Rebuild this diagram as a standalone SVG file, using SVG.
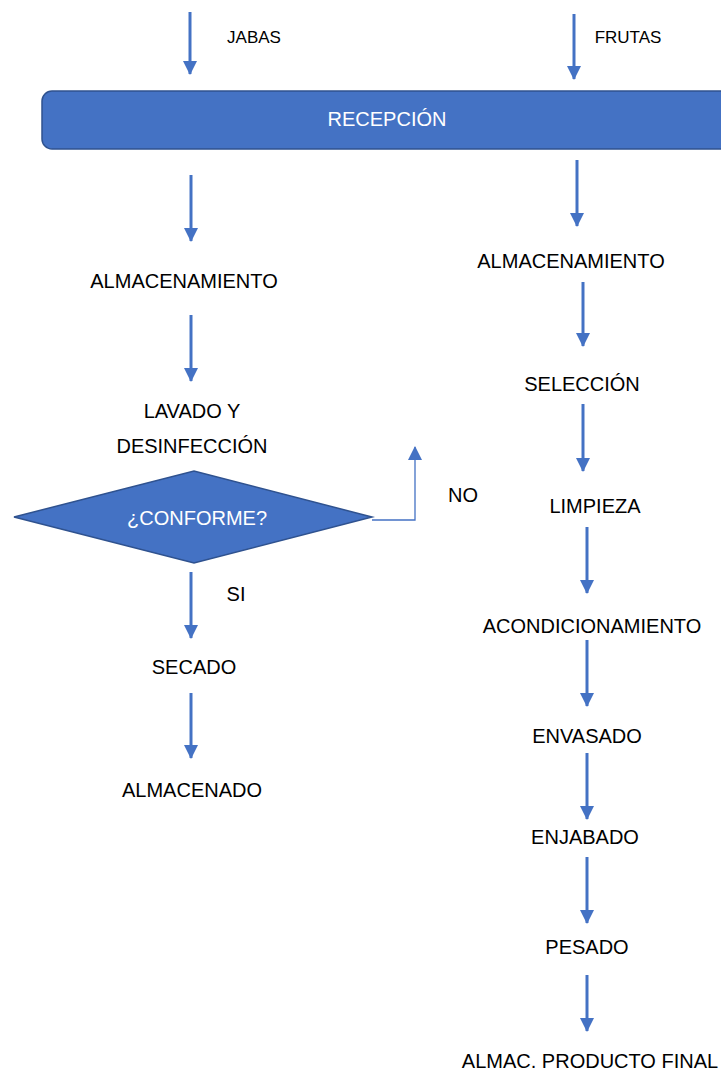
<svg xmlns="http://www.w3.org/2000/svg" width="721" height="1074" viewBox="0 0 721 1074">
<style>
.t{font-family:"Liberation Sans",Arial,sans-serif;font-size:20px;fill:#000;text-anchor:middle;dominant-baseline:central}
.s{font-size:17px}
.w{fill:#fff}
.a{stroke:#4472C4;stroke-width:3;fill:none;marker-end:url(#ah)}
.shape{fill:#4472C4;stroke:#2F528F;stroke-width:1.5}
</style>
<defs>
<marker id="ah" markerUnits="userSpaceOnUse" markerWidth="14" markerHeight="14" refX="13" refY="7" orient="auto" viewBox="0 0 14 14">
<path d="M0,0 L14,7 L0,14 Z" fill="#4472C4"/>
</marker>
</defs>
<g id="connectors">
<line class="a" x1="190" y1="12" x2="190" y2="74"/>
<line class="a" x1="574" y1="14" x2="574" y2="79"/>
<line class="a" x1="191" y1="175" x2="191" y2="241"/>
<line class="a" x1="191" y1="315" x2="191" y2="381"/>
<polyline points="372,520 415,520 415,447" fill="none" stroke="#4472C4" stroke-width="1.3" marker-end="url(#ah)"/>
<line class="a" x1="191" y1="572" x2="191" y2="638"/>
<line class="a" x1="191" y1="693" x2="191" y2="758"/>
<line class="a" x1="577" y1="160" x2="577" y2="226"/>
<line class="a" x1="583" y1="282" x2="583" y2="346"/>
<line class="a" x1="583" y1="404" x2="583" y2="471"/>
<line class="a" x1="587" y1="527" x2="587" y2="593"/>
<line class="a" x1="587" y1="640" x2="587" y2="706"/>
<line class="a" x1="587" y1="753" x2="587" y2="819"/>
<line class="a" x1="587" y1="857" x2="587" y2="923"/>
<line class="a" x1="587" y1="975" x2="587" y2="1031"/>
</g>
<text class="t s" x="254" y="37">JABAS</text>
<text class="t s" x="628" y="37">FRUTAS</text>
<text class="t" x="463" y="495">NO</text>
<text class="t" x="236" y="594">SI</text>
<g id="recepcion">
<rect class="shape" x="42" y="91" width="700" height="58" rx="10"/>
<text class="t w" x="387" y="119">RECEPCIÓN</text>
</g>
<g id="almac-jabas"><text class="t" x="184" y="281">ALMACENAMIENTO</text></g>
<g id="lavado"><text class="t" x="192" y="411">LAVADO Y</text><text class="t" x="192" y="446">DESINFECCIÓN</text></g>
<g id="conforme">
<polygon class="shape" points="14,517 194,471 372,517 194,563"/>
<text class="t w" x="197" y="518">¿CONFORME?</text>
</g>
<g id="secado"><text class="t" x="194" y="667">SECADO</text></g>
<g id="almacenado"><text class="t" x="192" y="790">ALMACENADO</text></g>
<g id="almac-frutas"><text class="t" x="571" y="261">ALMACENAMIENTO</text></g>
<g id="seleccion"><text class="t" x="582" y="384">SELECCIÓN</text></g>
<g id="limpieza"><text class="t" x="595" y="506">LIMPIEZA</text></g>
<g id="acond"><text class="t" x="592" y="626">ACONDICIONAMIENTO</text></g>
<g id="envasado"><text class="t" x="587" y="736">ENVASADO</text></g>
<g id="enjabado"><text class="t" x="585" y="837">ENJABADO</text></g>
<g id="pesado"><text class="t" x="587" y="947">PESADO</text></g>
<g id="almac-final"><text class="t" x="590" y="1061">ALMAC. PRODUCTO FINAL</text></g>
</svg>
